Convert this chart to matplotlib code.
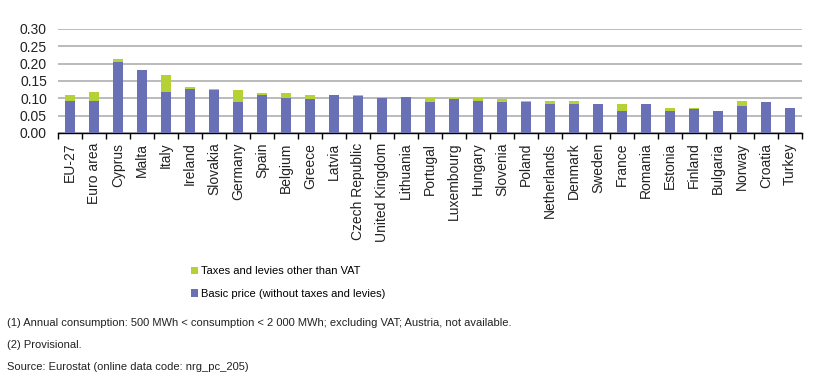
import matplotlib
matplotlib.use("Agg")
import matplotlib.pyplot as plt
import numpy as np
from matplotlib.patches import Patch

plt.rcParams['font.family'] = ['Liberation Sans', 'DejaVu Sans']

countries = ["EU-27", "Euro area", "Cyprus", "Malta", "Italy", "Ireland", "Slovakia",
             "Germany", "Spain", "Belgium", "Greece", "Latvia", "Czech Republic",
             "United Kingdom", "Lithuania", "Portugal", "Luxembourg", "Hungary",
             "Slovenia", "Poland", "Netherlands", "Denmark", "Sweden", "France",
             "Romania", "Estonia", "Finland", "Bulgaria", "Norway", "Croatia", "Turkey"]
basic_price = [0.092, 0.092, 0.205, 0.183, 0.119, 0.128, 0.123, 0.088, 0.111, 0.101,
               0.097, 0.110, 0.106, 0.102, 0.105, 0.088, 0.097, 0.092, 0.088, 0.088,
               0.083, 0.083, 0.083, 0.064, 0.083, 0.064, 0.070, 0.064, 0.079, 0.088, 0.073]
total_price = [0.110, 0.119, 0.214, 0.183, 0.168, 0.133, 0.128, 0.123, 0.114, 0.114,
               0.110, 0.110, 0.110, 0.105, 0.105, 0.100, 0.100, 0.100, 0.098, 0.092,
               0.092, 0.092, 0.083, 0.083, 0.083, 0.073, 0.073, 0.064, 0.092, 0.088, 0.073]
taxes = [round(t - b, 3) for t, b in zip(total_price, basic_price)]
yticks = [0.00, 0.05, 0.10, 0.15, 0.20, 0.25, 0.30]
legend_labels = ["Taxes and levies other than VAT", "Basic price (without taxes and levies)"]
footnotes = ["(1) Annual consumption: 500 MWh < consumption < 2 000 MWh; excluding VAT; Austria, not available.",
             "(2) Provisional.",
             "Source: Eurostat (online data code: nrg_pc_205)"]

BLUE = "#6A70B5"
GREEN = "#B4D234"
TXT = "#222222"

W, H = 824, 390
fig = plt.figure(figsize=(W / 100, H / 100), dpi=100)
ax = fig.add_axes([58 / W, 1 - 133 / H, (802 - 58) / W, (133 - 29) / H])

x = np.arange(len(countries))
ax.bar(x, basic_price, width=0.38, color=BLUE, zorder=3)
ax.bar(x, taxes, width=0.38, bottom=basic_price, color=GREEN, zorder=3)

ax.set_xlim(-0.5, len(countries) - 0.5)
ax.set_ylim(0, 0.30)
ax.set_yticks(yticks)
ax.set_yticklabels([f"{v:.2f}" for v in yticks], fontsize=10, color=TXT)
ax.yaxis.grid(True, color="#BBBBBB", linewidth=1.4, zorder=0)
ax.set_axisbelow(True)
ax.tick_params(axis='y', length=0, pad=8)

ax.set_xticks(x)
ax.set_xticklabels(countries, rotation=90, fontsize=10, color=TXT)
ax.tick_params(axis='x', which='major', length=0, pad=7)
ax.set_xticks(np.arange(-0.5, len(countries), 1.0), minor=True)
ax.tick_params(axis='x', which='minor', length=4, width=1, color="#000000", direction='out')

for s in ['top', 'right', 'left']:
    ax.spines[s].set_visible(False)
ax.spines['bottom'].set_color("#000000")
ax.spines['bottom'].set_linewidth(1)

handles = [Patch(facecolor=GREEN, edgecolor='none'), Patch(facecolor=BLUE, edgecolor='none')]
fig.legend(handles, legend_labels, loc='upper left', bbox_to_anchor=(187 / W, 1 - 262 / H),
           frameon=False, fontsize=8, handlelength=0.6, handleheight=0.7,
           handletextpad=0.3, labelspacing=1.1, borderaxespad=0)

for i, t in enumerate(footnotes):
    fig.text(7 / W, 1 - (323 + 22 * i) / H, t, fontsize=8,
             color=TXT, va='center', ha='left')

fig.savefig("out.png", dpi=100, facecolor="white")
